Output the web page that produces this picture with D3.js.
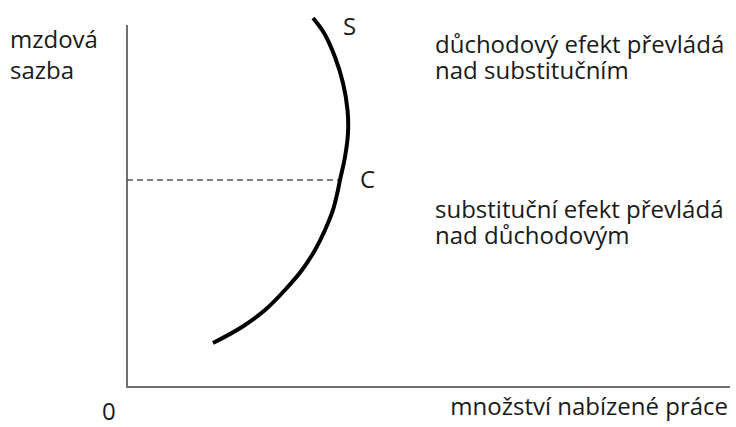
<!DOCTYPE html>
<html>
<head>
<meta charset="utf-8">
<script src="https://cdn.jsdelivr.net/npm/d3@7"></script>
<style>
  html, body { margin: 0; padding: 0; background: #fff; }
  svg { display: block; }
  text { font-family: "Open Sans", "Noto Sans", sans-serif; fill: #1a1a1a; }
</style>
</head>
<body>
<svg id="chart" width="736" height="427"></svg>
<script>
// Supply curve S (quantity of labour, wage rate) in arbitrary units, bottom to top
const supplyQuantity = [14.26, 19.07, 22.89, 26.20, 29.02, 31.18, 32.84, 34.16, 34.99, 35.32, 36.15, 36.65, 36.57, 35.82, 34.49, 32.67, 30.85];
const supplyWage     = [12.15, 16.57, 21.27, 26.80, 32.32, 37.85, 43.37, 48.90, 54.42, 57.18, 63.54, 70.17, 76.52, 83.98, 91.16, 97.79, 101.93];
// Point C (turning point between effects)
const pointC = { q: 35.32, w: 57.18 };
// Labels
const yAxisLabel = ["mzdová", "sazba"];
const xAxisLabel = "množství nabízené práce";
const originLabel = "0";
const upperNote = ["důchodový efekt převládá", "nad substitučním"];
const lowerNote = ["substituční efekt převládá", "nad důchodovým"];

const svg = d3.select("#chart");
const x = d3.scaleLinear().domain([0, 100]).range([127, 730]);
const y = d3.scaleLinear().domain([0, 100]).range([387, 25]);

// axes
svg.append("line")
  .attr("x1", x(0)).attr("x2", x(0)).attr("y1", y(100)).attr("y2", y(0))
  .attr("stroke", "#707070").attr("stroke-width", 2);
svg.append("line")
  .attr("x1", x(0) - 1).attr("x2", x(100)).attr("y1", y(0)).attr("y2", y(0))
  .attr("stroke", "#707070").attr("stroke-width", 2);

// dashed line to C
svg.append("line")
  .attr("x1", x(0)).attr("x2", x(pointC.q)).attr("y1", y(pointC.w)).attr("y2", y(pointC.w))
  .attr("stroke", "#555").attr("stroke-width", 1.5).attr("stroke-dasharray", "6,4");

// supply curve
const pts = supplyQuantity.map((q, i) => [q, supplyWage[i]]);
const line = d3.line().x(d => x(d[0])).y(d => y(d[1])).curve(d3.curveCatmullRom.alpha(0.5));
svg.append("path")
  .attr("d", line(pts))
  .attr("fill", "none").attr("stroke", "#000").attr("stroke-width", 4).attr("stroke-linecap", "butt");

const fs = 24;
function multiline(lines, x0, y0, dy) {
  const t = svg.append("text").attr("x", x0).attr("y", y0).attr("font-size", fs);
  lines.forEach((s, i) => {
    t.append("tspan").attr("x", x0).attr("y", y0 + i * dy).text(s);
  });
}
// y-axis label
multiline(yAxisLabel, 10, 48, 31);
// origin
svg.append("text").attr("x", 102).attr("y", 420).attr("font-size", fs).text(originLabel);
// x-axis label
svg.append("text").attr("x", 728).attr("y", 415).attr("text-anchor", "end").attr("font-size", fs).text(xAxisLabel);
// S and C
svg.append("text").attr("x", 343).attr("y", 35).attr("font-size", fs).text("S");
svg.append("text").attr("x", 360).attr("y", 188).attr("font-size", fs).text("C");
// notes
multiline(upperNote, 435, 53, 26);
multiline(lowerNote, 435, 218, 26);
</script>
</body>
</html>
